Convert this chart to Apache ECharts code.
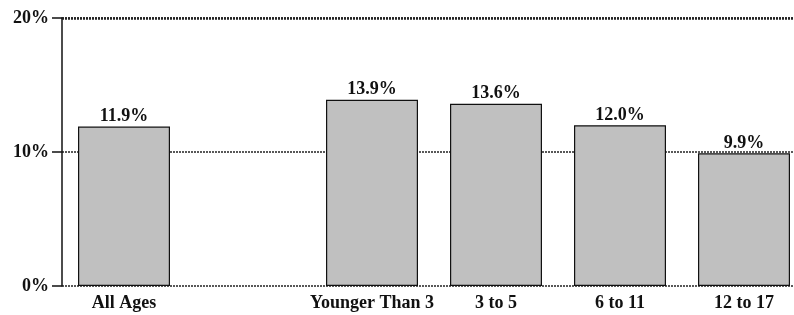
<!DOCTYPE html>
<html>
<head>
<meta charset="utf-8">
<script src="https://cdn.jsdelivr.net/npm/echarts@6/dist/echarts.min.js"></script>
<style>
  html, body { margin: 0; padding: 0; background: #fff; }
  #chart { width: 794px; height: 315px; }
</style>
</head>
<body>
<div id="chart"></div>
<script>
// categories (empty slot keeps the gap after "All Ages")
const categories = ['All Ages', '', 'Younger Than 3', '3 to 5', '6 to 11', '12 to 17']
const shares = [11.9, null, 13.9, 13.6, 12.0, 9.9]
const yTicks = [0, 10, 20]

const font = '"Liberation Serif", "Times New Roman", serif'

const chart = echarts.init(document.getElementById('chart'))

chart.setOption({
  animation: false,
  grid: {
    left: 62,
    top: 18,
    width: 744,
    height: 268,
    outerBoundsMode: 'none',
    containLabel: false
  },
  xAxis: {
    type: 'category',
    data: categories,
    axisLine: { show: false },
    axisTick: { show: false },
    axisLabel: {
      interval: 0,
      margin: 8,
      color: '#111',
      fontFamily: font,
      fontWeight: 'bold',
      fontSize: 18
    }
  },
  yAxis: {
    type: 'value',
    min: yTicks[0],
    max: yTicks[yTicks.length - 1],
    interval: 10,
    axisLine: { show: true, lineStyle: { color: '#111', width: 1.5 } },
    axisTick: { show: true, length: 10, lineStyle: { color: '#111', width: 1.5 } },
    axisLabel: {
      margin: 13,
      color: '#111',
      fontFamily: font,
      fontWeight: 'bold',
      fontSize: 18,
      formatter: v => v + '%'
    },
    splitLine: {
      lineStyle: { color: '#222', type: [2, 1], width: 1.5 }
    }
  },
  series: [
    {
      type: 'bar',
      data: shares,
      barWidth: 92,
      itemStyle: {
        color: '#c0c0c0',
        borderColor: '#111',
        borderWidth: 1.2
      },
      label: {
        show: true,
        position: 'top',
        distance: 1,
        color: '#111',
        fontFamily: font,
        fontWeight: 'bold',
        fontSize: 18,
        formatter: p => p.value.toFixed(1) + '%'
      },
      markLine: {
        silent: true,
        symbol: 'none',
        label: { show: false },
        lineStyle: { color: '#222', type: [2, 1], width: 2.5 },
        data: [{ yAxis: 20 }]
      }
    }
  ]
})
</script>
</body>
</html>
